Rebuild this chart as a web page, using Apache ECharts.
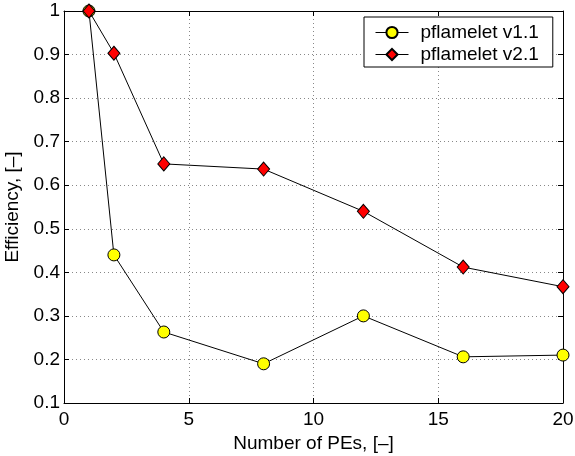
<!DOCTYPE html>
<html>
<head>
<meta charset="utf-8">
<script src="https://cdn.jsdelivr.net/npm/echarts@6/dist/echarts.min.js"></script>
<style>
html, body { margin: 0; padding: 0; background: #fff; }
#chart { width: 575px; height: 456px; }
</style>
</head>
<body>
<div id="chart"></div>
<script>
// Number of processing elements
const pes = [1, 2, 4, 8, 12, 16, 20];
// Parallel efficiency per version
const effV11 = [1.0, 0.44, 0.263, 0.19, 0.30, 0.206, 0.21];
const effV21 = [1.0, 0.903, 0.649, 0.637, 0.54, 0.412, 0.367];
const xTicks = [0, 5, 10, 15, 20];
const yTicks = [0.1, 0.2, 0.3, 0.4, 0.5, 0.6, 0.7, 0.8, 0.9, 1];

const font = 'Liberation Sans, Arial, sans-serif';
const fs = 19;
const chart = echarts.init(document.getElementById('chart'), null, { renderer: 'canvas' });

const pair = (xs, ys) => xs.map((x, i) => [x, ys[i]]);

// mirrored axes close the box with inward ticks
const boxAxis = {
  axisLine: { show: true, onZero: false, lineStyle: { color: '#000', width: 1 } },
  axisTick: { show: true, inside: true, length: 5, lineStyle: { color: '#000' } },
  axisLabel: { show: false },
  splitLine: { show: false }
};

chart.setOption({
  animation: false,
  backgroundColor: '#fff',
  grid: {
    left: 64, right: 12, top: 11, bottom: 53,
    containLabel: false, outerBoundsMode: 'none'
  },
  legend: {
    left: 364, top: 17,
    orient: 'vertical',
    backgroundColor: '#fff',
    borderColor: '#000',
    borderWidth: 1,
    borderRadius: 0,
    padding: [6, 14, 3, 11],
    itemGap: 3,
    itemWidth: 33,
    itemHeight: 14,
    lineStyle: { width: 1 },
    textStyle: { fontFamily: font, fontSize: fs, color: '#000', padding: [0, 0, 0, 7] },
    data: ['pflamelet v1.1', 'pflamelet v2.1']
  },
  xAxis: [{
    type: 'value',
    min: xTicks[0], max: xTicks[xTicks.length - 1], interval: 5,
    name: 'Number of PEs, [–]',
    nameLocation: 'middle', nameGap: 27,
    nameTextStyle: { fontFamily: font, fontSize: fs, color: '#000' },
    axisLine: { show: true, onZero: false, lineStyle: { color: '#000', width: 1 } },
    axisTick: { show: true, inside: true, length: 5, lineStyle: { color: '#000' } },
    axisLabel: { fontFamily: font, fontSize: fs, color: '#000', margin: 7 },
    splitLine: { show: true, lineStyle: { type: [1, 3], color: '#888', width: 1 } }
  }, Object.assign({
    type: 'value', position: 'top',
    min: xTicks[0], max: xTicks[xTicks.length - 1], interval: 5
  }, boxAxis)],
  yAxis: [{
    type: 'value',
    min: yTicks[0], max: yTicks[yTicks.length - 1], interval: 0.1,
    name: 'Efficiency, [–]',
    nameLocation: 'middle', nameGap: 35,
    nameTextStyle: { fontFamily: font, fontSize: fs, color: '#000' },
    axisLine: { show: true, onZero: false, lineStyle: { color: '#000', width: 1 } },
    axisTick: { show: true, inside: true, length: 5, lineStyle: { color: '#000' } },
    axisLabel: {
      fontFamily: font, fontSize: fs, color: '#000', margin: 4,
      formatter: v => String(Math.round(v * 10) / 10)
    },
    splitLine: { show: true, lineStyle: { type: [1, 3], color: '#888', width: 1 } }
  }, Object.assign({
    type: 'value', position: 'right',
    min: yTicks[0], max: yTicks[yTicks.length - 1], interval: 0.1
  }, boxAxis)],
  series: [{
    name: 'pflamelet v1.1',
    type: 'line',
    data: pair(pes, effV11),
    symbol: 'circle',
    symbolSize: 12,
    lineStyle: { color: '#000', width: 1 },
    itemStyle: { color: '#ffff00', borderColor: '#000', borderWidth: 1 },
    z: 3
  }, {
    name: 'pflamelet v2.1',
    type: 'line',
    data: pair(pes, effV21),
    symbol: 'diamond',
    symbolSize: [12, 14],
    lineStyle: { color: '#000', width: 1 },
    itemStyle: { color: '#ff0000', borderColor: '#000', borderWidth: 1 },
    z: 4
  }]
});
</script>
</body>
</html>
